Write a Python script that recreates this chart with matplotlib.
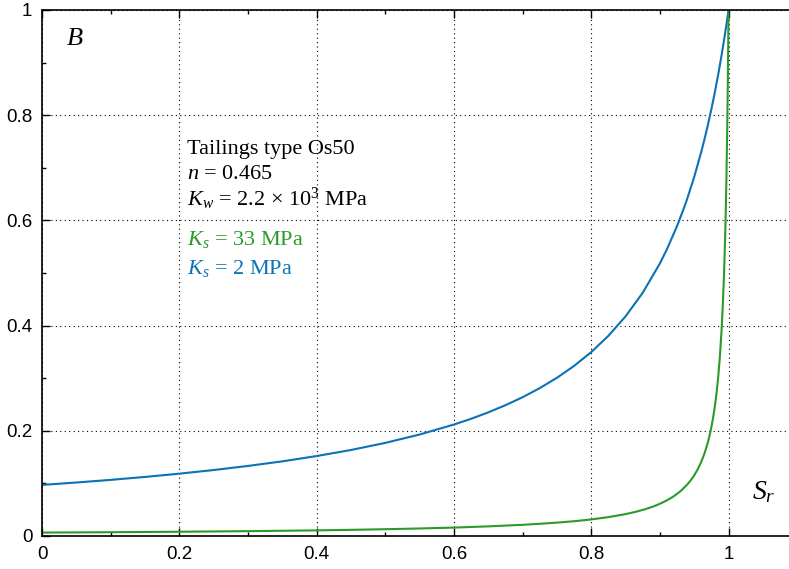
import matplotlib
matplotlib.use("Agg")
import matplotlib.pyplot as plt

plt.rcParams["mathtext.fontset"] = "custom"
plt.rcParams["mathtext.rm"] = "Liberation Serif"
plt.rcParams["mathtext.it"] = "Liberation Serif:italic"

# Data
sr_blue = [0.0, 0.05, 0.1, 0.15, 0.2, 0.25, 0.3, 0.35, 0.4, 0.45, 0.5, 0.55, 0.6,
           0.625, 0.65, 0.675, 0.7, 0.725, 0.75, 0.775, 0.8, 0.825, 0.85, 0.875,
           0.9, 0.91, 0.925, 0.935, 0.94, 0.95, 0.96, 0.965, 0.97, 0.975, 0.98,
           0.985, 0.99, 0.995, 0.9975, 1.0]
b_blue = [0.0971, 0.1017, 0.1067, 0.1123, 0.1185, 0.1254, 0.1332, 0.1419, 0.1520,
          0.1635, 0.1770, 0.1929, 0.2119, 0.2228, 0.2350, 0.2486, 0.2638, 0.2811,
          0.3007, 0.3233, 0.3496, 0.3805, 0.4175, 0.4623, 0.5180, 0.5443, 0.5890,
          0.6231, 0.6417, 0.6824, 0.7287, 0.7542, 0.7816, 0.8111, 0.8429, 0.8773,
          0.9146, 0.9552, 0.9769, 0.9996]

sr_green = [0.0, 0.1, 0.2, 0.3, 0.4, 0.45, 0.5, 0.55, 0.6, 0.65, 0.7, 0.725, 0.75,
            0.775, 0.8, 0.825, 0.85, 0.865, 0.88, 0.89, 0.9, 0.91, 0.92, 0.93, 0.94,
            0.945, 0.95, 0.955, 0.96, 0.965, 0.97, 0.9725, 0.975, 0.9775, 0.98,
            0.9825, 0.985, 0.9875, 0.99, 0.9915, 0.993, 0.994, 0.995, 0.996, 0.997,
            0.998, 0.9985, 0.999, 0.9995, 1.0]
b_green = [0.0065, 0.0072, 0.0081, 0.0092, 0.0107, 0.0117, 0.0129, 0.0143, 0.0160,
           0.0183, 0.0213, 0.0232, 0.0254, 0.0281, 0.0315, 0.0359, 0.0416, 0.0460,
           0.0515, 0.0559, 0.0612, 0.0675, 0.0753, 0.0851, 0.0979, 0.1059, 0.1152,
           0.1264, 0.1400, 0.1568, 0.1783, 0.1913, 0.2065, 0.2242, 0.2454, 0.2708,
           0.3023, 0.3419, 0.3935, 0.4327, 0.4805, 0.5188, 0.5637, 0.6170, 0.6815,
           0.7611, 0.8084, 0.8618, 0.9228, 0.9931]

xticks = [0, 0.2, 0.4, 0.6, 0.8, 1]
xticklabels = ["0", "0.2", "0.4", "0.6", "0.8", "1"]
yticks = [0, 0.2, 0.4, 0.6, 0.8, 1]
yticklabels = ["0", "0.2", "0.4", "0.6", "0.8", "1"]

BLUE = "#0a72b5"
GREEN = "#2a9a2a"

fig = plt.figure(figsize=(7.89, 5.69), dpi=100)
ax = fig.add_axes([42/789, 1 - 536/569, (789 - 42)/789, 526/569])

ax.plot(sr_blue, b_blue, color=BLUE, lw=1.5)
ax.plot(sr_green, b_green, color=GREEN, lw=1.5)

ax.set_xlim(0, (789 - 42) / 686.5)
ax.set_ylim(0, 1)
ax.set_xticks(xticks)
ax.set_xticklabels(xticklabels)
ax.set_yticks(yticks)
ax.set_yticklabels(yticklabels)
ax.set_xticks([0.1, 0.3, 0.5, 0.7, 0.9], minor=True)
ax.set_yticks([0.1, 0.3, 0.5, 0.7, 0.9], minor=True)
ax.tick_params(which="both", direction="in", top=True, right=False, width=1)
ax.tick_params(which="major", length=6, labelsize=13.5, pad=7)
ax.tick_params(which="minor", length=3)
for lab in ax.get_xticklabels() + ax.get_yticklabels():
    lab.set_family("Liberation Sans")
ax.grid(True, which="major", color="black", linestyle=(0, (1, 3)), lw=0.8)
ax.spines["right"].set_visible(False)
for s in ["left", "bottom", "top"]:
    ax.spines[s].set_linewidth(1.2)

serif = "Liberation Serif"
ax.text(0.032, 0.945, "$B$", transform=ax.transAxes, fontsize=19, family=serif,
        va="center", ha="left")
ax.text(1.052, 0.083, "$S_r$", fontsize=20, family=serif, ha="center", va="center")

tx = 0.211
ax.text(tx, 0.735, "Tailings type Os50", fontsize=16, family=serif, va="center")
ax.text(tx, 0.688, "$n$ = 0.465", fontsize=16, family=serif, va="center")
ax.text(tx, 0.640, "$K_w$ = 2.2 × 10$^3$ MPa", fontsize=16, family=serif, va="center")
ax.text(tx, 0.564, "$K_s$ = 33 MPa", fontsize=16, family=serif, va="center", color=GREEN)
ax.text(tx, 0.509, "$K_s$ = 2 MPa", fontsize=16, family=serif, va="center", color=BLUE)

fig.savefig("out.png", dpi=100)
